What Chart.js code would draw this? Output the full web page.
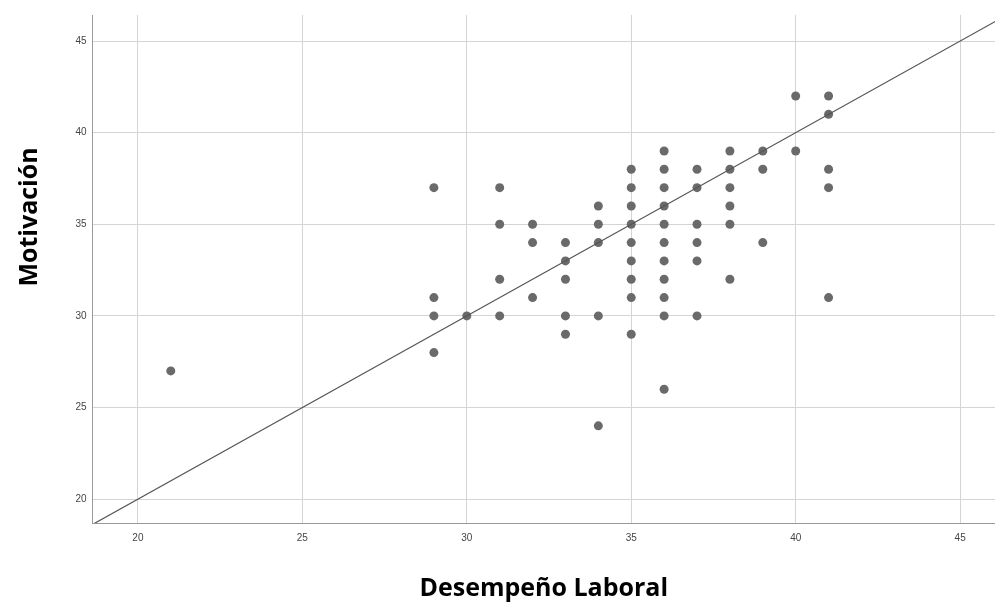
<!DOCTYPE html>
<html>
<head>
<meta charset="utf-8">
<script src="https://cdn.jsdelivr.net/npm/chart.js@4.4.1/dist/chart.umd.min.js"></script>
<style>
  html, body { margin: 0; padding: 0; background: #fff; overflow: hidden; }
  #wrap { width: 995px; height: 603px; position: relative; }
</style>
</head>
<body>
<div id="wrap"><canvas id="chart"></canvas></div>
<script>
// Desempeño Laboral (x) and Motivación (y), one entry per respondent point
const desempeno = [
  21,
  29, 29, 29, 29,
  30,
  31, 31, 31, 31,
  32, 32, 32,
  33, 33, 33, 33, 33,
  34, 34, 34, 34, 34,
  35, 35, 35, 35, 35, 35, 35, 35, 35,
  36, 36, 36, 36, 36, 36, 36, 36, 36, 36, 36,
  37, 37, 37, 37, 37, 37,
  38, 38, 38, 38, 38, 38,
  39, 39, 39,
  40, 40,
  41, 41, 41, 41, 41
];
const motivacion = [
  27,
  37, 31, 30, 28,
  30,
  37, 35, 32, 30,
  35, 34, 31,
  34, 33, 32, 30, 29,
  36, 35, 34, 30, 24,
  38, 37, 36, 35, 34, 33, 32, 31, 29,
  39, 38, 37, 36, 35, 34, 33, 32, 31, 30, 26,
  38, 37, 35, 34, 33, 30,
  39, 38, 37, 36, 35, 32,
  39, 38, 34,
  42, 39,
  42, 41, 38, 37, 31
];

// axis ranges and tick labels
const xRange = [18.62, 46.06];
const yRange = [18.7, 46.42];
const tickValues = [20, 25, 30, 35, 40, 45];
// reference line y = x (clipped by the plot area)
const refLine = [18, 47];

const xTitle = 'Desempeño Laboral';
const yTitle = 'Motivación';

const points = desempeno.map((x, i) => ({ x: x, y: motivacion[i] }));

// draws the two bold axis titles
const axisTitles = {
  id: 'axisTitles',
  afterDraw(chart) {
    const ctx = chart.ctx;
    const area = chart.chartArea;
    ctx.save();
    ctx.fillStyle = '#000';
    ctx.font = 'bold 25px "Open Sans"';
    ctx.textAlign = 'center';
    ctx.textBaseline = 'alphabetic';
    ctx.fillText(xTitle, (area.left + area.right) / 2, 596);
    ctx.translate(37, 217);
    ctx.rotate(-Math.PI / 2);
    ctx.fillText(yTitle, 0, 0);
    ctx.restore();
  }
};

const fixTicks = (scale) => {
  scale.ticks = tickValues.map(v => ({ value: v }));
};

new Chart(document.getElementById('chart').getContext('2d'), {
  type: 'scatter',
  data: {
    datasets: [
      {
        type: 'line',
        data: refLine.map(v => ({ x: v, y: v })),
        borderColor: '#555555',
        borderWidth: 1.2,
        pointRadius: 0,
        fill: false
      },
      {
        data: points,
        backgroundColor: '#6a6a6a',
        borderWidth: 0,
        pointRadius: 4.5,
        pointHoverRadius: 4.5
      }
    ]
  },
  options: {
    responsive: true,
    maintainAspectRatio: false,
    animation: false,
    layout: { autoPadding: false, padding: { top: 15, right: 0, left: 0, bottom: 0 } },
    plugins: {
      legend: { display: false },
      tooltip: { enabled: false }
    },
    scales: {
      x: {
        type: 'linear',
        min: xRange[0],
        max: xRange[1],
        afterBuildTicks: fixTicks,
        afterFit: (scale) => {
          scale.height = 80;
          scale.paddingLeft = 0;
          scale.paddingRight = 0;
        },
        grid: { color: '#d4d4d4', lineWidth: 1, drawTicks: false },
        border: { color: '#9a9a9a', width: 1 },
        ticks: {
          padding: 9,
          color: '#444',
          font: { family: 'Liberation Sans', size: 10 },
          maxRotation: 0
        }
      },
      y: {
        type: 'linear',
        min: yRange[0],
        max: yRange[1],
        afterBuildTicks: fixTicks,
        afterFit: (scale) => {
          scale.width = 92.5;
          scale.paddingTop = 0;
          scale.paddingBottom = 0;
        },
        grid: { color: '#d4d4d4', lineWidth: 1, drawTicks: false },
        border: { color: '#9a9a9a', width: 1 },
        ticks: {
          padding: 6,
          color: '#444',
          font: { family: 'Liberation Sans', size: 10 }
        }
      }
    }
  },
  plugins: [axisTitles]
});
</script>
</body>
</html>
